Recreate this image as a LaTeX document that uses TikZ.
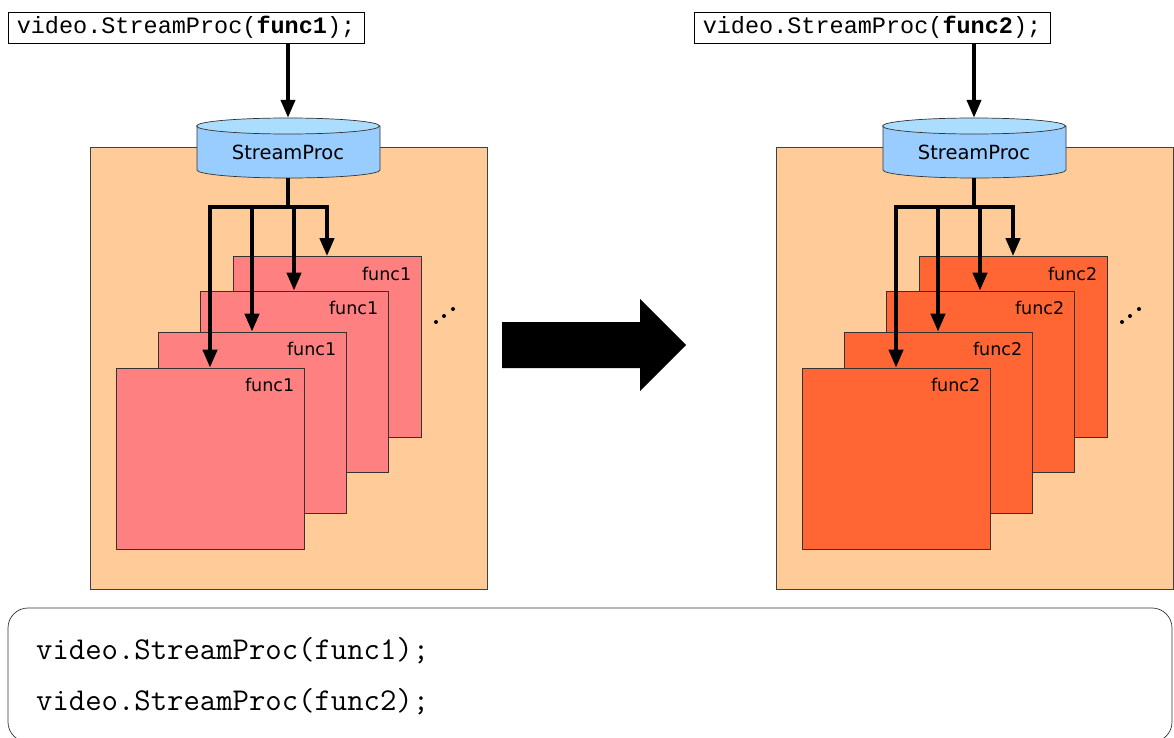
\documentclass[tikz,border=0pt]{standalone}
\usepackage{fontspec}
\usetikzlibrary{arrows.meta}
\newfontfamily\codefont{Liberation Mono}
\newfontfamily\labelfont{DejaVu Sans}
\definecolor{panelcol}{HTML}{FFCC99}
\definecolor{cylbody}{HTML}{99CCFF}
\definecolor{cyltop}{HTML}{AADDFF}
\definecolor{sqA}{HTML}{FF8080}
\definecolor{sqB}{HTML}{FF6633}
\begin{document}
\begin{tikzpicture}[x=1pt,y=-1pt,
  codebox/.style={draw, line width=0.7pt, inner sep=0pt, minimum width=356pt,
    minimum height=31pt, font=\codefont\fontsize{23.5}{26}\selectfont},
  panel/.style={draw=black!75, fill=panelcol, line width=0.7pt},
  cylline/.style={draw=black!80, line width=0.7pt},
  frame/.style={draw=black!80, line width=0.7pt, inner sep=0pt,
    minimum width=188pt, minimum height=181pt},
  funclabel/.style={anchor=base east, inner sep=0pt,
    font=\labelfont\fontsize{17.5}{20}\selectfont},
  trunk/.style={line width=4pt},
  arr/.style={line width=4pt, line join=miter, -{Triangle[length=18pt,width=14pt]}},
  bigarrow/.style={fill=black},
  listing/.style={anchor=base west, inner sep=0pt,
    font=\ttfamily\fontsize{31.8}{34}\selectfont}]
\useasboundingbox (0,0) rectangle (1174,738);

\foreach \side/\dx/\fc/\sq in {L/0/func1/sqA, R/686/func2/sqB}{
  % surrounding panel
  \draw[panel] (90+\dx,147) rectangle (487+\dx,589);
  % call box
  \node[codebox] (code\side) at (186+\dx,27.5) {video.StreamProc(\textbf{\fc});};
  % StreamProc cylinder
  \node[minimum width=183pt, minimum height=60pt, inner sep=0pt] (cyl\side) at (288+\dx,148) {};
  \filldraw[cylline, fill=cylbody] (197+\dx,126) -- (197+\dx,170)
    arc[start angle=180, end angle=0, x radius=91.5, y radius=8] -- (380+\dx,126) -- cycle;
  \filldraw[cylline, fill=cyltop] (288+\dx,126) ellipse [x radius=91.5, y radius=8];
  \node[inner sep=0pt, font=\labelfont\fontsize{19.5}{22}\selectfont] at (288+\dx,152.5) {StreamProc};
  % stacked frames, back to front
  \node[frame, fill=\sq] (s4\side) at (327+\dx,347) {};
  \node[funclabel] at ([shift={(-10,24)}]s4\side.north east) {\fc};
  \node[frame, fill=\sq] (s3\side) at (294+\dx,381.5) {};
  \node[funclabel] at ([shift={(-10,24)}]s3\side.north east) {\fc};
  \node[frame, fill=\sq] (s2\side) at (252+\dx,422.5) {};
  \node[funclabel] at ([shift={(-10,24)}]s2\side.north east) {\fc};
  \node[frame, fill=\sq] (s1\side) at (210+\dx,458.5) {};
  \node[funclabel] at ([shift={(-10,24)}]s1\side.north east) {\fc};
  % ellipsis
  \fill (436+\dx,322) circle[radius=2] (444+\dx,316) circle[radius=2] (453+\dx,309) circle[radius=2];
  % connectors
  \draw[arr] (cyl\side.north |- code\side.south) -- (cyl\side.north);
  \coordinate (j\side) at (288+\dx,207);
  \draw[trunk] (cyl\side.south) -- (j\side);
  \draw[arr] (j\side) -| (s1\side.north);
  \draw[arr] (j\side) -| (s4\side.north);
  \draw[arr] (s2\side.north |- j\side) -- (s2\side.north);
  \draw[arr] (s3\side.north |- j\side) -- (s3\side.north);
}

% transition arrow
\fill[bigarrow] (502,322) -- (640,322) -- (640,299) -- (686,345) -- (640,391)
  -- (640,368) -- (502,368) -- cycle;

% listing box
\draw[draw=black!80, line width=0.7pt, rounded corners=20pt] (8,608) rectangle (1172,742);
\node[listing] (lineA) at (36,659) {video.StreamProc(func1);};
\node[listing] (lineB) at (36,710) {video.StreamProc(func2);};
\end{tikzpicture}
\end{document}
